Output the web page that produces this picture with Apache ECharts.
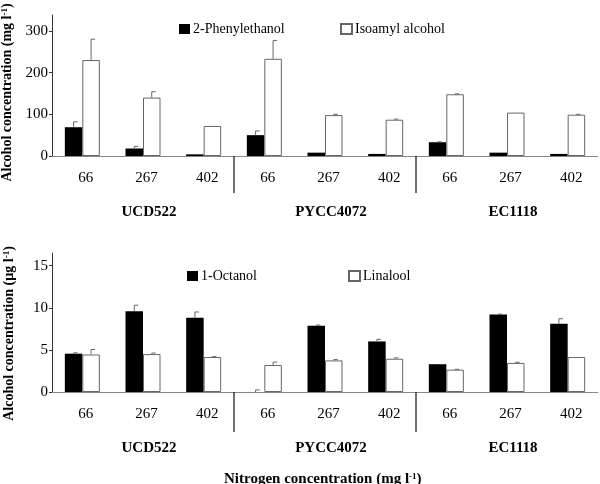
<!DOCTYPE html>
<html>
<head>
<meta charset="utf-8">
<script src="https://cdn.jsdelivr.net/npm/echarts@6/dist/echarts.min.js"></script>
<style>
  html, body { margin: 0; padding: 0; background: #fff; }
  #chart { width: 600px; height: 484px; }
</style>
</head>
<body>
<div id="chart"></div>
<script>
const nitrogenLevels = ['66', '267', '402']
const strains = ['UCD522', 'PYCC4072', 'EC1118']

// mg/l
const phenylethanol = [69, 18, 4, 50, 8, 5, 33, 8, 5]
const phenylethanolErr = [13, 5, 0, 10, 0, 0, 1, 0, 0]
const isoamyl = [230, 140, 72, 233, 98, 87, 148, 104, 99]
const isoamylErr = [50, 14, 0, 44, 2, 1.5, 1, 0, 1]

// ug/l
const octanol = [4.55, 9.6, 8.8, 0, 7.85, 6.0, 3.3, 9.2, 8.1]
const octanolErr = [0.1, 0.7, 0.7, 0.25, 0.1, 0.25, 0, 0.05, 0.6]
const linalool = [4.45, 4.5, 4.15, 3.2, 3.75, 3.95, 2.65, 3.45, 4.15]
const linaloolErr = [0.6, 0.12, 0.05, 0.35, 0.1, 0.1, 0.05, 0.08, 0]

const topTicks = [0, 100, 200, 300]
const bottomTicks = [0, 5, 10, 15]

const categories = strains.flatMap(() => nitrogenLevels)
const boundaries = strains.slice(1).map((s, i) => [(i + 1) * nitrogenLevels.length, 0])

const FONT = 'Liberation Serif'
const BAR_W = 17.5

const chart = echarts.init(document.getElementById('chart'))

function errData(values, errs) {
  return values.map((v, i) => [i, v, errs[i]])
}

// draws the upper half of an error bar above a bar (side -1 = left bar, 1 = right bar)
function errorBar(side) {
  return function (params, api) {
    const err = api.value(2)
    if (!err) return null
    const base = api.coord([api.value(0), api.value(1)])
    const top = api.coord([api.value(0), api.value(1) + err])
    const x = base[0] + side * BAR_W / 2
    return {
      type: 'group',
      children: [
        { type: 'line', shape: { x1: x, y1: base[1], x2: x, y2: top[1] }, style: { stroke: '#666', lineWidth: 1 } },
        { type: 'line', shape: { x1: x, y1: top[1], x2: x + 4, y2: top[1] }, style: { stroke: '#666', lineWidth: 1 } }
      ]
    }
  }
}

function separator(len) {
  return function (params, api) {
    const p = api.coord([api.value(0), 0])
    const x = p[0] - api.size([1, 0])[0] / 2
    return {
      type: 'line',
      shape: { x1: x, y1: p[1], x2: x, y2: p[1] + len },
      style: { stroke: '#222', lineWidth: 1.3 }
    }
  }
}

const sup = { sup: { fontSize: 9, verticalAlign: 'top', fontFamily: FONT, fontWeight: 'bold' } }

function legend(name, left, top) {
  return {
    data: [name],
    left: left,
    top: top,
    icon: 'rect',
    itemWidth: 11,
    itemHeight: 10,
    itemGap: 0,
    selectedMode: false,
    textStyle: { fontFamily: FONT, fontSize: 14, color: '#000', padding: [0, 0, 0, -2] }
  }
}

function numAxis(gridIndex) {
  return {
    type: 'category',
    gridIndex: gridIndex,
    data: categories,
    axisLine: { lineStyle: { color: '#888', width: 1 } },
    axisTick: { show: false },
    axisLabel: { margin: 15, fontFamily: FONT, fontSize: 15, color: '#000', padding: [0, 0, 0, 7] }
  }
}

function strainAxis(gridIndex) {
  return {
    type: 'category',
    gridIndex: gridIndex,
    data: strains,
    position: 'bottom',
    axisLine: { show: false },
    axisTick: { show: false },
    axisLabel: { margin: 49, fontFamily: FONT, fontSize: 15, fontWeight: 'bold', color: '#000', padding: [0, 0, 0, 12] }
  }
}

function valAxis(gridIndex, max, interval, ticks, name, namePad) {
  return {
    type: 'value',
    gridIndex: gridIndex,
    min: 0,
    max: max,
    interval: interval,
    splitLine: { show: false },
    axisLine: { show: true, lineStyle: { color: '#333', width: 1 } },
    axisTick: { show: true, length: 3, customValues: ticks, lineStyle: { color: '#333' } },
    axisLabel: { margin: 4, fontFamily: FONT, fontSize: 15, color: '#000', customValues: ticks },
    name: name,
    nameLocation: 'middle',
    nameRotate: 90,
    nameGap: 36,
    nameTextStyle: { fontFamily: FONT, fontSize: 14, fontWeight: 'bold', color: '#000', rich: sup, padding: namePad }
  }
}

const blackStyle = { color: '#000' }
const whiteStyle = { color: '#fff', borderColor: '#666', borderWidth: 1 }

const option = {
  animation: false,
  backgroundColor: '#fff',
  title: {
    text: 'Nitrogen concentration (mg l{sup|-1})',
    left: 219,
    top: 467,
    textStyle: { fontFamily: FONT, fontSize: 15, fontWeight: 'bold', color: '#000', rich: sup }
  },
  legend: [
    legend('2-Phenylethanol', 174, 17),
    legend('Isoamyl alcohol', 335, 17),
    legend('1-Octanol', 182, 264),
    legend('Linalool', 343, 264)
  ],
  grid: [
    { left: 52, right: 2, top: 15, height: 141, outerBoundsMode: 'none' },
    { left: 52, right: 2, top: 253, height: 139, outerBoundsMode: 'none' }
  ],
  xAxis: [numAxis(0), strainAxis(0), numAxis(1), strainAxis(1)],
  yAxis: [
    valAxis(0, 338, 100, topTicks, 'Alcohol concentration (mg l{sup|-1})', [0, 14, 0, 0]),
    valAxis(1, 16.5, 5, bottomTicks, 'Alcohol concentration (\u00b5g l{sup|-1})', [0, 22, 0, 0])
  ],
  series: [
    { name: '2-Phenylethanol', type: 'bar', xAxisIndex: 0, yAxisIndex: 0, barWidth: BAR_W, barGap: '0%', itemStyle: blackStyle, data: phenylethanol },
    { name: 'Isoamyl alcohol', type: 'bar', xAxisIndex: 0, yAxisIndex: 0, barWidth: BAR_W, barGap: '0%', itemStyle: whiteStyle, data: isoamyl },
    { type: 'custom', xAxisIndex: 0, yAxisIndex: 0, renderItem: errorBar(-1), data: errData(phenylethanol, phenylethanolErr), silent: true, z: 3 },
    { type: 'custom', xAxisIndex: 0, yAxisIndex: 0, renderItem: errorBar(1), data: errData(isoamyl, isoamylErr), silent: true, z: 3 },
    { type: 'custom', xAxisIndex: 0, yAxisIndex: 0, renderItem: separator(37), data: boundaries, silent: true, clip: false },

    { name: '1-Octanol', type: 'bar', xAxisIndex: 2, yAxisIndex: 1, barWidth: BAR_W, barGap: '0%', itemStyle: blackStyle, data: octanol },
    { name: 'Linalool', type: 'bar', xAxisIndex: 2, yAxisIndex: 1, barWidth: BAR_W, barGap: '0%', itemStyle: whiteStyle, data: linalool },
    { type: 'custom', xAxisIndex: 2, yAxisIndex: 1, renderItem: errorBar(-1), data: errData(octanol, octanolErr), silent: true, z: 3 },
    { type: 'custom', xAxisIndex: 2, yAxisIndex: 1, renderItem: errorBar(1), data: errData(linalool, linaloolErr), silent: true, z: 3 },
    { type: 'custom', xAxisIndex: 2, yAxisIndex: 1, renderItem: separator(40), data: boundaries, silent: true, clip: false }
  ]
}

chart.setOption(option)
</script>
</body>
</html>
